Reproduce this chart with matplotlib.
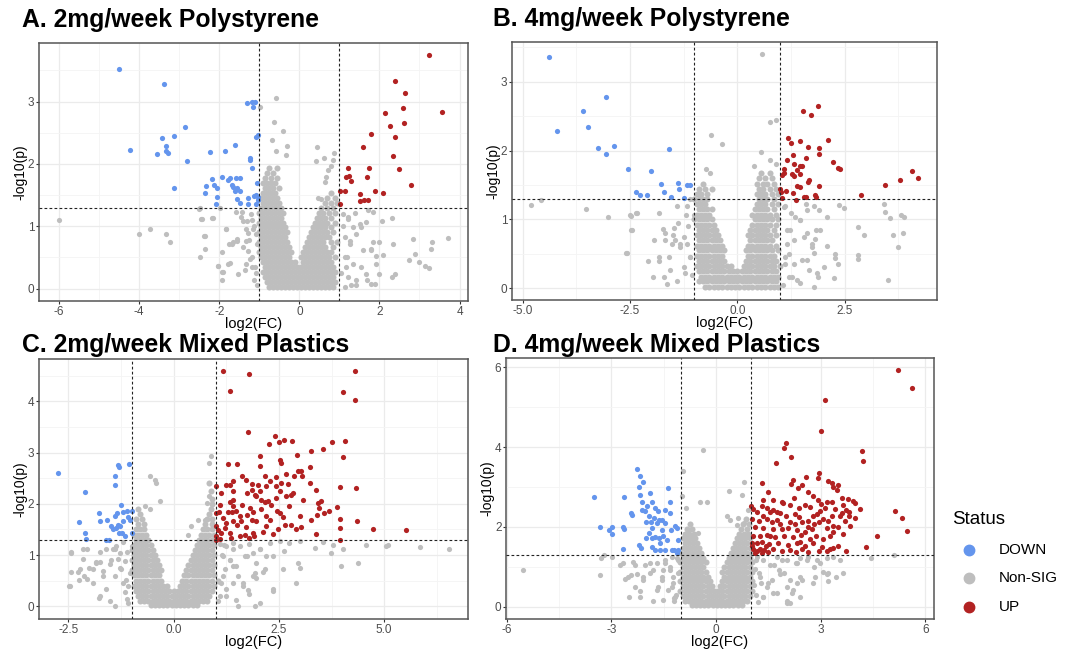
import matplotlib.pyplot as plt
from matplotlib.lines import Line2D

plt.rcParams['axes.unicode_minus'] = False
plt.rcParams['font.family'] = ['Liberation Sans', 'DejaVu Sans']

# colours used by the Status groups
C_DOWN = '#6495ED'
C_NS = '#BEBEBE'
C_UP = '#B22222'

# ---------------- panel A : 2mg/week Polystyrene ----------------
A_down = [(-4.51, 3.53), (-3.39, 3.29), (-4.23, 2.22), (-2.85, 2.60), (-3.43, 2.41), (-3.14, 2.45),
          (-3.33, 2.29), (-3.55, 2.16), (-3.34, 2.21), (-3.28, 2.17), (-2.80, 2.05), (-3.14, 1.62),
          (-2.22, 2.19), (-1.86, 2.20), (-1.61, 2.31), (-1.31, 2.97), (-1.18, 2.99), (-1.11, 3.00),
          (-1.16, 2.92), (-1.07, 2.44), (-1.02, 2.46), (-1.22, 2.09), (-1.22, 2.06), (-1.19, 1.94),
          (-1.05, 1.70), (-2.17, 1.76), (-1.92, 1.79), (-1.78, 1.75), (-1.72, 1.78), (-1.59, 1.78),
          (-1.47, 1.78), (-1.69, 1.66), (-1.66, 1.63), (-1.56, 1.61), (-1.49, 1.56), (-1.61, 1.57),
          (-2.32, 1.65), (-2.13, 1.66), (-2.05, 1.62), (-2.35, 1.54), (-2.05, 1.47), (-2.09, 1.36),
          (-1.55, 1.44), (-1.49, 1.38), (-1.28, 1.45), (-1.27, 1.36), (-1.13, 1.48), (-1.07, 1.50),
          (-1.03, 1.42), (-1.07, 1.36), (-1.02, 1.47)]
A_up = [(3.25, 3.74), (2.40, 3.33), (2.63, 3.14), (2.60, 2.90), (3.57, 2.84), (2.13, 2.81),
        (2.27, 2.61), (2.61, 2.65), (1.80, 2.48), (2.38, 2.43), (1.60, 2.27), (2.35, 2.13),
        (1.21, 1.94), (1.73, 1.93), (2.50, 1.92), (1.17, 1.79), (1.23, 1.80), (1.30, 1.72),
        (1.68, 1.79), (2.80, 1.66), (1.01, 1.57), (1.15, 1.57), (1.90, 1.56), (2.09, 1.53),
        (1.52, 1.52), (1.52, 1.40), (1.61, 1.42), (1.72, 1.42), (1.02, 1.36)]
A_ns = [(-6.0, 1.10), (-4.01, 0.87), (-3.72, 0.96), (-3.32, 0.88), (-3.22, 0.75), (-2.50, 1.27),
        (-2.46, 1.12), (-2.18, 1.14), (-1.99, 1.29), (-2.39, 0.85), (-2.35, 0.63), (-2.47, 0.50),
        (-2.03, 0.36), (-1.92, 0.26), (-1.84, 0.95), (-1.77, 0.40), (-1.75, 0.71), (-1.66, 0.75),
        (-1.56, 0.79), (-1.41, 0.67), (-1.31, 1.09), (-1.26, 0.78), (-1.18, 0.51), (-1.32, 0.40),
        (-1.11, 0.35), (-1.36, 0.29), (-1.53, 0.24), (-0.59, 3.06), (-0.64, 2.67), (-0.41, 2.53),
        (-0.68, 2.38), (-0.59, 2.20), (-0.34, 2.14), (-0.31, 2.28), (-0.98, 2.91), (0.44, 2.27),
        (0.41, 2.05), (0.61, 2.09), (0.87, 2.17), (0.84, 2.07), (0.78, 1.97), (0.72, 1.90),
        (0.66, 1.79), (0.65, 1.71), (0.46, 1.45), (0.53, 1.44), (1.72, 1.26), (1.67, 1.07),
        (2.06, 1.08), (2.32, 1.14), (2.83, 0.80), (3.30, 0.74), (3.29, 0.63), (3.71, 0.81),
        (2.90, 0.56), (2.75, 0.46), (3.00, 0.43), (3.13, 0.37), (3.25, 0.33), (2.34, 0.72),
        (2.00, 0.74), (1.84, 0.74), (1.79, 0.62), (2.10, 0.54), (1.92, 0.39), (2.00, 0.24),
        (2.32, 0.18), (2.39, 0.23), (1.70, 0.13), (1.80, 0.08), (1.42, 0.05), (1.38, 1.21),
        (1.21, 1.15), (1.55, 0.99), (1.42, 0.88), (1.59, 0.62), (1.34, 0.40), (1.17, 0.35),
        (1.26, 0.72), (1.13, 0.51), (-1.2, 1.2), (-1.15, 0.95), (-1.45, 1.15), (1.1, 1.0),
        (-2.48, 1.29), (-2.44, 1.12), (-2.15, 1.14), (-2.36, 0.85), (-1.83, 0.95), (-1.94, 0.59),
        (-2.02, 0.37), (-1.90, 0.26), (-1.73, 0.41), (-1.92, 0.13), (-1.69, 0.72), (-1.55, 0.77),
        (-1.40, 1.09), (-1.33, 0.95), (-1.28, 0.89), (-1.32, 0.77), (-1.28, 0.61), (-1.23, 0.48),
        (-1.19, 0.34), (-1.14, 0.13), (-1.57, 1.23), (-1.42, 1.23), (-1.19, 1.10), (-1.14, 1.00),
        (-1.09, 0.88), (-1.05, 0.72), (-1.08, 0.25), (-1.05, 0.05),
        (1.09, 1.20), (1.22, 1.12), (1.34, 0.99), (1.51, 1.04), (1.84, 1.23), (1.13, 0.83),
        (1.26, 0.77), (1.80, 0.64), (1.92, 0.53), (1.18, 0.51), (1.55, 0.34), (1.22, 0.18),
        (1.42, 0.13), (1.67, 0.24), (1.88, 0.08), (1.13, 0.02), (1.30, 0.05), (1.05, 0.25)]
A_ns_rows = [
    (0.02, [-0.75, -0.65, -0.55, -0.45, -0.35, -0.25, -0.15, -0.05, 0.05, 0.15, 0.25, 0.35, 0.45, 0.55, 0.65, 0.75, 0.85]),
    (0.10, [-0.8, -0.7, -0.6, -0.5, -0.4, -0.3, -0.2, -0.1, 0.0, 0.1, 0.2, 0.3, 0.4, 0.5, 0.6, 0.7, 0.8, 0.9]),
    (0.18, [-0.85, -0.75, -0.65, -0.55, -0.45, -0.35, -0.25, -0.15, -0.05, 0.05, 0.15, 0.25, 0.35, 0.45, 0.55, 0.65, 0.75, 0.85]),
    (0.26, [-0.9, -0.8, -0.7, -0.6, -0.5, -0.4, -0.3, -0.2, -0.1, 0.0, 0.1, 0.2, 0.3, 0.4, 0.5, 0.6, 0.7, 0.8, 0.9]),
    (0.34, [-0.85, -0.75, -0.65, -0.55, -0.45, -0.35, -0.25, -0.15, -0.05, 0.05, 0.15, 0.25, 0.35, 0.45, 0.55, 0.65, 0.75, 0.85]),
    (0.42, [-0.9, -0.8, -0.7, -0.6, -0.5, -0.4, -0.3, -0.2, -0.1, 0.1, 0.2, 0.3, 0.4, 0.5, 0.6, 0.7, 0.8]),
    (0.50, [-0.95, -0.85, -0.75, -0.65, -0.55, -0.45, -0.35, -0.25, 0.05, 0.15, 0.25, 0.35, 0.45, 0.55, 0.65, 0.75, 0.9]),
    (0.58, [-1.0, -0.9, -0.8, -0.7, -0.6, -0.5, -0.4, -0.3, -0.2, 0.1, 0.2, 0.3, 0.4, 0.5, 0.6, 0.7, 0.8]),
    (0.66, [-0.95, -0.85, -0.75, -0.65, -0.55, -0.45, -0.35, -0.25, 0.15, 0.25, 0.35, 0.45, 0.55, 0.65, 0.85]),
    (0.74, [-1.0, -0.9, -0.8, -0.7, -0.6, -0.5, -0.4, -0.3, 0.2, 0.3, 0.4, 0.5, 0.6, 0.8, 0.95]),
    (0.82, [-0.95, -0.85, -0.75, -0.65, -0.55, -0.45, -0.35, 0.25, 0.35, 0.45, 0.55, 0.65, 0.75]),
    (0.90, [-1.0, -0.9, -0.8, -0.7, -0.6, -0.5, -0.4, -0.3, 0.3, 0.4, 0.5, 0.6, 0.7, 0.85]),
    (0.98, [-0.95, -0.85, -0.75, -0.65, -0.55, -0.45, -0.35, 0.35, 0.45, 0.55, 0.65, 0.8]),
    (1.06, [-1.0, -0.9, -0.8, -0.7, -0.6, -0.5, -0.4, 0.4, 0.5, 0.6, 0.7, 0.9]),
    (1.14, [-0.95, -0.85, -0.75, -0.65, -0.55, -0.45, 0.45, 0.55, 0.65, 0.8]),
    (1.22, [-1.0, -0.9, -0.8, -0.7, -0.6, -0.5, -0.4, 0.5, 0.6, 0.75, 0.9]),
    (1.30, [-0.95, -0.85, -0.75, -0.65, -0.55, -0.45, 0.55, 0.7, 0.85]),
    (1.38, [-0.9, -0.8, -0.7, -0.6, -0.5, 0.65, 0.8, 0.95]),
    (1.46, [-0.95, -0.85, -0.75, -0.65, -0.55, 0.7, 0.9]),
    (1.54, [-0.9, -0.8, -0.7, -0.6, 0.8]),
    (1.62, [-0.85, -0.75, -0.65, -0.5]),
    (1.70, [-0.9, -0.8, -0.7, -0.6]),
    (1.78, [-0.85, -0.7, -0.55]),
    (1.86, [-0.8, -0.65]),
    (1.94, [-0.75, -0.55]),
]

# ---------------- panel B : 4mg/week Polystyrene ----------------
B_down = [(-4.38, 3.36), (-4.20, 2.28), (-3.60, 2.57), (-3.49, 2.34), (-3.07, 2.78), (-3.25, 2.04),
          (-3.06, 1.95), (-2.87, 2.07), (-2.55, 1.74), (-2.02, 1.70), (-1.60, 2.03), (-2.35, 1.40),
          (-2.26, 1.35), (-2.10, 1.35), (-1.79, 1.52), (-1.72, 1.40), (-1.55, 1.33), (-1.38, 1.53),
          (-1.35, 1.44), (-1.17, 1.50), (-1.11, 1.50), (-1.24, 1.31)]
B_up = [(1.53, 2.57), (1.72, 2.52), (1.89, 2.65), (1.17, 2.19), (1.24, 2.11), (1.45, 2.14),
        (2.10, 2.16), (1.64, 2.05), (1.91, 2.04), (1.91, 1.95), (1.29, 1.93), (1.15, 1.87),
        (1.33, 1.80), (1.61, 1.90), (1.45, 1.78), (1.50, 1.78), (1.08, 1.73), (1.09, 1.68),
        (1.39, 1.72), (2.22, 1.84), (2.34, 1.75), (2.39, 1.73), (1.27, 1.66), (1.33, 1.63),
        (1.45, 1.66), (1.05, 1.64), (1.66, 1.57), (1.65, 1.54), (1.40, 1.48), (1.45, 1.47),
        (1.91, 1.49), (0.99, 1.45), (1.02, 1.40), (1.14, 1.42), (1.30, 1.38), (1.55, 1.33),
        (1.59, 1.32), (1.36, 1.29), (1.04, 1.31), (1.80, 1.35), (1.83, 1.33), (2.87, 1.35),
        (3.45, 1.50), (3.79, 1.57), (4.07, 1.71), (4.20, 1.60)]
B_ns = [(-4.81, 1.21), (-4.57, 1.29), (-3.52, 1.15), (-3.01, 1.03), (-2.59, 0.52), (-2.47, 0.85),
        (-2.47, 1.05), (-2.35, 1.09), (-2.07, 0.40), (-1.97, 0.17), (-1.93, 0.70), (-1.83, 0.46),
        (-1.82, 1.09), (-1.73, 0.86), (-1.68, 0.80), (-1.64, 0.06), (-1.56, 0.27), (-1.50, 0.77),
        (-1.46, 0.70), (-1.41, 1.19), (-1.38, 0.95), (-1.34, 0.60), (-1.23, 0.22), (-1.20, 1.07),
        (-1.17, 0.64), (-1.11, 0.45), (0.57, 3.41), (0.77, 2.42), (0.89, 2.44), (-0.61, 2.23),
        (-0.36, 2.09), (0.54, 1.98), (0.76, 1.87), (0.89, 1.80), (0.38, 1.78), (-0.72, 1.73),
        (-0.63, 1.67), (2.36, 1.21), (2.48, 1.16), (3.42, 1.23), (3.44, 1.11), (3.56, 1.02),
        (3.82, 1.06), (3.88, 1.04), (3.86, 0.80), (3.62, 0.77), (3.74, 0.60), (3.50, 0.12),
        (2.80, 0.89), (2.96, 0.78), (2.81, 0.48), (2.82, 0.42), (2.27, 0.50), (2.28, 0.44),
        (2.34, 0.36), (2.24, 0.15), (2.09, 0.61), (1.93, 0.85), (1.91, 1.14), (2.09, 1.04),
        (1.80, 0.72), (1.78, 0.51), (2.01, 0.31), (1.87, 0.17), (1.74, 0.65), (1.62, 0.80),
        (1.47, 0.99), (1.35, 1.04), (1.59, 1.23), (1.78, 1.19), (1.51, 0.41), (1.66, 0.27),
        (1.27, 0.17), (1.39, 0.12), (1.12, 0.36), (1.16, 0.65), (1.23, 0.85), (-1.1, 1.3),
        (-1.15, 0.9), (1.1, 1.2), (1.2, 0.5),
        (-2.49, 1.06), (-2.34, 1.09), (-2.46, 0.85), (-2.57, 0.52), (-1.68, 0.70), (-1.48, 0.87),
        (-1.25, 0.75), (-1.17, 1.19), (-1.02, 1.06), (-1.10, 0.46), (-1.25, 0.31), (-1.41, 0.10),
        (-1.72, 0.17), (-1.83, 0.39), (-1.60, 0.46), (-1.33, 0.65), (-1.52, 0.65), (-1.05, 0.2),
        (1.08, 1.18), (1.24, 1.09), (1.47, 0.99), (1.63, 1.14), (1.83, 0.85), (1.16, 0.85),
        (1.31, 0.70), (1.55, 0.75), (1.74, 0.60), (1.12, 0.46), (1.31, 0.36), (1.63, 0.41),
        (1.86, 0.22), (1.20, 0.17), (1.47, 0.07), (1.78, 0.02), (1.06, 0.05)]
B_ns_rows = [
    (0.02, [-0.75, -0.65, -0.55, -0.45, -0.35, -0.25, -0.15, -0.05, 0.05, 0.15, 0.25, 0.35, 0.45, 0.55, 0.65, 0.75, 0.85, 0.95]),
    (0.10, [-0.9, -0.8, -0.7, -0.6, -0.5, -0.4, -0.3, -0.2, -0.1, 0.0, 0.1, 0.2, 0.3, 0.4, 0.5, 0.6, 0.7, 0.8, 0.9]),
    (0.17, [-0.85, -0.75, -0.65, -0.55, -0.45, -0.35, -0.25, -0.15, -0.05, 0.05, 0.15, 0.25, 0.35, 0.45, 0.55, 0.65, 0.75, 0.85, 0.95]),
    (0.25, [-0.9, -0.8, -0.7, -0.6, -0.5, -0.4, -0.3, -0.2, -0.1, 0.0, 0.1, 0.2, 0.3, 0.4, 0.5, 0.6, 0.7, 0.8, 0.9]),
    (0.32, [-0.95, -0.85, -0.75, -0.65, -0.55, -0.45, -0.35, -0.25, -0.15, 0.15, 0.25, 0.35, 0.45, 0.55, 0.65, 0.75, 0.85, 1.0]),
    (0.40, [-0.9, -0.8, -0.7, -0.6, -0.5, -0.4, -0.3, 0.2, 0.3, 0.4, 0.5, 0.6, 0.7, 0.8, 0.9]),
    (0.47, [-0.95, -0.85, -0.75, -0.65, -0.55, -0.45, -0.35, 0.25, 0.35, 0.45, 0.55, 0.65, 0.75, 0.85]),
    (0.55, [-0.9, -0.8, -0.7, -0.6, -0.5, -0.4, -0.3, 0.2, 0.3, 0.4, 0.5, 0.6, 0.7, 0.8, 0.95]),
    (0.62, [-0.95, -0.85, -0.75, -0.65, -0.55, -0.45, -0.35, 0.25, 0.35, 0.45, 0.55, 0.65, 0.75, 0.9]),
    (0.70, [-0.9, -0.8, -0.7, -0.6, -0.5, -0.4, 0.3, 0.4, 0.5, 0.6, 0.7, 0.8]),
    (0.77, [-0.95, -0.85, -0.75, -0.65, -0.55, -0.45, 0.25, 0.35, 0.45, 0.55, 0.65, 0.75, 0.9]),
    (0.85, [-0.9, -0.8, -0.7, -0.6, -0.5, 0.3, 0.4, 0.5, 0.6, 0.7, 0.85]),
    (0.92, [-0.95, -0.85, -0.75, -0.65, -0.55, 0.35, 0.45, 0.55, 0.65, 0.75, 0.9]),
    (1.00, [-1.0, -0.9, -0.8, -0.7, -0.6, 0.4, 0.5, 0.6, 0.7, 0.8, 0.95]),
    (1.07, [-0.95, -0.85, -0.75, -0.65, 0.35, 0.45, 0.55, 0.65, 0.75, 0.9]),
    (1.15, [-0.9, -0.8, -0.7, -0.6, 0.4, 0.5, 0.6, 0.7, 0.85]),
    (1.22, [-0.95, -0.85, -0.75, 0.45, 0.55, 0.65, 0.8, 0.95]),
    (1.30, [-1.0, -0.9, -0.8, -0.7, 0.5, 0.6, 0.7, 0.85]),
    (1.37, [-0.95, -0.85, -0.7, 0.45, 0.55, 0.65, 0.8, 0.95]),
    (1.45, [-0.9, -0.75, -0.6, 0.5, 0.6, 0.75, 0.9]),
    (1.52, [-0.8, 0.45, 0.6, 0.7, 0.85]),
    (1.60, [0.5, 0.65, 0.8]),
    (1.67, [0.55, 0.75]),
]

# ---------------- panel C : 2mg/week Mixed Plastics ----------------
C_down = [(-2.75, 2.61), (-2.10, 2.24), (-2.25, 1.65), (-2.10, 1.43), (-2.09, 1.32), (-1.77, 1.82),
          (-1.74, 1.66), (-1.58, 1.69), (-1.60, 1.30), (-1.54, 1.30), (-1.40, 1.77), (-1.35, 1.82),
          (-1.26, 1.98), (-1.40, 2.54), (-1.40, 2.36), (-1.32, 2.75), (-1.31, 2.72), (-1.06, 2.78),
          (-1.20, 1.85), (-1.11, 1.87), (-1.00, 1.87), (-1.08, 1.74), (-1.03, 1.69), (-0.98, 1.43),
          (-1.50, 1.56), (-1.44, 1.50), (-1.36, 1.53), (-1.32, 1.59), (-1.27, 1.56), (-1.23, 1.44),
          (-1.16, 1.38), (-1.30, 1.43), (-1.20, 1.66)]
C_up = [(1.16, 4.59), (1.78, 4.54), (1.33, 4.21), (4.30, 4.59), (4.03, 4.18), (4.31, 4.02),
        (1.76, 3.40), (2.40, 3.32), (2.61, 3.24), (2.82, 3.23), (2.50, 3.20), (2.26, 3.17),
        (3.77, 3.21), (4.08, 3.22), (3.27, 3.04), (3.54, 3.08), (2.06, 2.94), (2.92, 2.95),
        (4.03, 2.91), (2.52, 2.85), (2.54, 2.80), (1.29, 2.78), (1.51, 2.78), (2.04, 2.73),
        (3.25, 2.72), (2.95, 2.65), (3.03, 2.65), (1.62, 2.54), (2.16, 2.55), (2.28, 2.44),
        (2.66, 2.59), (2.42, 2.52), (2.85, 2.54), (3.05, 2.54), (1.01, 2.34), (1.25, 2.37),
        (1.34, 2.37), (1.72, 2.47), (1.86, 2.39), (2.00, 2.36), (2.20, 2.34), (2.42, 2.34),
        (2.56, 2.41), (2.72, 2.39), (3.96, 2.32), (4.32, 2.31), (2.83, 2.21), (2.66, 2.15),
        (2.78, 2.17), (1.86, 2.28), (1.74, 2.21), (1.41, 2.26), (1.92, 2.18), (2.08, 2.08),
        (2.16, 2.03), (2.24, 2.05), (2.32, 1.98), (1.42, 2.07), (1.33, 2.03), (1.63, 1.98),
        (1.11, 1.98), (1.49, 1.87), (1.01, 1.82), (1.08, 1.84), (1.29, 1.85), (1.39, 1.85),
        (1.82, 1.92), (1.88, 1.85), (1.74, 1.79), (2.45, 1.86), (2.53, 1.82), (3.43, 2.02),
        (3.51, 2.05), (3.45, 1.91), (3.69, 1.86), (3.88, 1.94), (3.96, 1.70), (3.40, 1.79),
        (3.27, 1.69), (3.58, 1.83), (4.36, 1.66), (1.16, 1.73), (1.25, 1.63), (1.41, 1.66),
        (1.50, 1.58), (1.61, 1.67), (1.87, 1.69), (1.96, 1.66), (2.20, 1.76), (2.28, 1.69),
        (2.59, 1.74), (2.64, 1.59), (2.79, 1.58), (3.03, 1.55), (2.90, 1.51), (1.01, 1.56),
        (1.05, 1.48), (1.12, 1.43), (1.21, 1.53), (1.34, 1.43), (1.01, 1.38), (1.09, 1.31),
        (1.37, 1.33), (1.57, 1.37), (1.69, 1.40), (1.80, 1.33), (1.90, 1.37), (2.12, 1.45),
        (2.36, 1.41), (2.48, 1.50), (3.37, 1.41), (3.94, 1.53), (3.96, 1.30), (4.73, 1.51),
        (5.52, 1.48), (1.00, 1.30), (1.96, 2.15), (2.04, 2.25), (2.44, 2.12), (2.52, 2.26),
        (1.41, 2.44), (1.13, 2.21), (1.57, 1.76), (2.08, 1.89), (2.75, 1.95), (2.99, 1.76),
        (3.07, 2.08), (3.37, 2.28), (3.23, 2.41), (1.41, 1.95), (1.72, 1.54), (2.20, 1.56),
        (1.88, 1.43)]
C_ns = [(-2.48, 0.39), (-2.43, 1.04), (-2.43, 0.67), (-2.25, 0.52), (-2.23, 0.72), (-2.15, 1.11),
        (-2.06, 1.11), (-2.14, 0.59), (-2.00, 0.75), (-1.91, 0.46), (-1.84, 0.87), (-1.76, 0.87),
        (-1.77, 0.16), (-1.68, 0.68), (-1.61, 0.33), (-1.60, 1.11), (-1.48, 0.91), (-1.40, 1.11),
        (-1.40, 0.59), (-1.28, 1.04), (-1.28, 0.75), (-1.16, 0.88), (-1.14, 0.52), (-1.08, 0.39),
        (-1.08, 0.07), (-1.03, 0.65), (-1.00, 1.17), (0.89, 2.94), (0.83, 2.80), (0.85, 2.15),
        (0.79, 2.02), (0.74, 1.69), (-0.57, 2.55), (-0.44, 2.47), (-0.41, 2.41), (-0.33, 2.05),
        (-0.67, 1.96), (-0.57, 1.89), (0.58, 1.69), (0.42, 1.56), (0.34, 1.40), (4.57, 1.20),
        (5.05, 1.17), (5.09, 1.19), (5.85, 1.15), (6.53, 1.11), (4.38, 0.85), (3.98, 0.79),
        (3.74, 1.04), (3.35, 1.14), (3.54, 1.26), (2.90, 0.46), (2.99, 0.75), (2.95, 0.85),
        (2.59, 0.72), (2.62, 1.07), (2.36, 0.29), (2.37, 0.98), (2.16, 0.72), (1.94, 0.65),
        (1.96, 0.55), (1.92, 0.01), (1.53, 0.01), (1.76, 0.31), (1.65, 0.46), (1.53, 0.59),
        (1.41, 0.78), (2.04, 1.11), (1.88, 1.04), (1.69, 0.98), (1.57, 1.17), (1.41, 1.11),
        (1.33, 0.91), (1.21, 0.72), (1.13, 0.46), (1.25, 0.33), (1.09, 0.20), (2.75, 1.24),
        (2.99, 1.27), (2.28, 1.24), (2.52, 1.27), (3.78, 1.20), (4.02, 1.12), (1.15, 1.0),
        (1.2, 1.2), (-1.2, 1.25),
        (-2.43, 1.05), (-2.47, 0.40), (-2.27, 0.66), (-2.15, 0.92), (-2.07, 0.53), (-1.92, 0.72),
        (-1.84, 0.85), (-1.76, 1.05), (-1.68, 0.59), (-1.52, 0.82), (-1.44, 1.11), (-1.36, 1.18),
        (-1.32, 0.92), (-1.24, 0.72), (-1.20, 0.46), (-1.12, 1.05), (-1.16, 0.27), (-1.76, 0.20),
        (-1.52, 0.10), (-1.40, 0.00), (-1.12, 0.14),
        (1.09, 1.21), (1.25, 1.18), (1.41, 1.24), (1.80, 1.21), (2.04, 1.11), (1.17, 0.98),
        (1.33, 0.91), (1.49, 0.79), (1.73, 0.98), (1.96, 0.85), (2.20, 0.98), (1.17, 0.59),
        (1.41, 0.46), (1.65, 0.40), (1.88, 0.59), (2.12, 0.66), (1.25, 0.20), (1.49, 0.13),
        (1.80, 0.23), (2.04, 0.07), (2.36, 0.33), (1.05, 0.1)]
C_ns_rows = [
    (0.02, [-0.55, -0.45, -0.35, -0.25, -0.15, -0.05, 0.05, 0.15, 0.25, 0.35, 0.45, 0.55]),
    (0.10, [-0.8, -0.7, -0.6, -0.5, -0.4, -0.3, -0.2, -0.1, 0.0, 0.1, 0.2, 0.3, 0.4, 0.5, 0.6, 0.7, 0.8]),
    (0.20, [-0.85, -0.75, -0.65, -0.55, -0.45, -0.35, -0.25, -0.15, -0.05, 0.05, 0.15, 0.25, 0.35, 0.45, 0.55, 0.65, 0.75, 0.85]),
    (0.30, [-0.9, -0.8, -0.7, -0.6, -0.5, -0.4, -0.3, -0.2, -0.1, 0.0, 0.1, 0.2, 0.3, 0.4, 0.5, 0.6, 0.7, 0.8, 0.9]),
    (0.40, [-0.95, -0.85, -0.75, -0.65, -0.55, -0.45, -0.35, -0.25, -0.15, 0.15, 0.25, 0.35, 0.45, 0.55, 0.65, 0.75, 0.85, 0.95]),
    (0.50, [-0.9, -0.8, -0.7, -0.6, -0.5, -0.4, -0.3, 0.2, 0.3, 0.4, 0.5, 0.6, 0.7, 0.8, 0.9, 1.05]),
    (0.60, [-0.95, -0.85, -0.75, -0.65, -0.55, -0.45, -0.35, 0.25, 0.35, 0.45, 0.55, 0.65, 0.75, 0.85, 0.95]),
    (0.70, [-1.0, -0.9, -0.8, -0.7, -0.6, -0.5, -0.4, -0.3, 0.3, 0.4, 0.5, 0.6, 0.7, 0.8, 0.9]),
    (0.80, [-0.95, -0.85, -0.75, -0.65, -0.55, -0.45, -0.35, 0.35, 0.45, 0.55, 0.65, 0.75, 0.85, 0.95]),
    (0.90, [-1.0, -0.9, -0.8, -0.7, -0.6, -0.5, -0.4, 0.4, 0.5, 0.6, 0.7, 0.8, 0.9]),
    (1.00, [-0.95, -0.85, -0.75, -0.65, -0.55, -0.45, 0.45, 0.55, 0.65, 0.75, 0.85, 0.95]),
    (1.10, [-1.0, -0.9, -0.8, -0.7, -0.6, -0.5, 0.5, 0.6, 0.7, 0.8, 0.9]),
    (1.20, [-0.95, -0.85, -0.75, -0.65, -0.55, 0.55, 0.65, 0.75, 0.85, 0.95]),
    (1.30, [-0.9, -0.8, -0.7, -0.6, 0.6, 0.7, 0.8, 0.9]),
    (1.40, [-0.95, -0.85, -0.75, -0.65, 0.65, 0.75, 0.85, 0.95]),
    (1.50, [-0.9, -0.8, -0.7, 0.7, 0.8, 0.9]),
    (1.60, [-0.85, -0.7, 0.75, 0.9]),
    (1.70, [-0.9, -0.75, 0.8, 0.92]),
    (1.80, [-0.8, 0.85]),
    (1.90, [-0.85, 0.88]),
    (2.00, [0.9]),
    (2.10, [0.92]),
    (2.25, [0.88]),
    (2.40, [0.85]),
]

# ---------------- panel D : 4mg/week Mixed Plastics ----------------
D_down = [(-3.49, 2.74), (-3.32, 2.00), (-3.08, 1.92), (-2.97, 1.99), (-2.98, 1.81), (-2.65, 2.75),
          (-2.66, 1.99), (-2.64, 1.95), (-2.68, 1.45), (-2.44, 2.34), (-2.42, 2.30), (-2.27, 3.46),
          (-2.18, 3.28), (-2.09, 3.13), (-2.22, 3.01), (-2.18, 2.80), (-2.11, 2.63), (-2.13, 2.41),
          (-2.05, 2.40), (-1.90, 2.86), (-1.83, 2.63), (-1.74, 2.47), (-1.66, 2.40), (-2.02, 2.13),
          (-1.92, 2.26), (-1.87, 2.13), (-1.78, 2.21), (-1.70, 2.09), (-1.63, 2.17), (-2.02, 1.71),
          (-1.92, 1.84), (-1.83, 1.71), (-1.74, 1.75), (-1.63, 1.71), (-2.20, 1.55), (-2.15, 1.46),
          (-1.85, 1.50), (-1.74, 1.42), (-1.61, 1.60), (-1.61, 1.42), (-1.54, 1.93), (-1.52, 1.78),
          (-1.45, 1.43), (-1.47, 2.10), (-1.46, 2.43), (-1.38, 2.98), (-1.33, 2.63), (-1.32, 2.34),
          (-1.30, 1.93), (-1.26, 1.42), (-1.18, 2.01), (-1.13, 1.97), (-1.10, 1.67), (-1.20, 1.42),
          (-1.08, 1.42), (-1.40, 1.67), (-1.83, 1.96), (-1.97, 2.51), (-1.54, 2.17), (-1.13, 1.34)]
D_up = [(5.21, 5.93), (5.62, 5.47), (3.13, 5.18), (3.01, 4.39), (2.01, 4.09), (1.94, 3.97),
        (2.15, 3.74), (1.72, 3.59), (4.18, 3.91), (4.21, 3.66), (2.94, 3.34), (2.92, 3.23),
        (2.59, 3.24), (2.22, 3.18), (1.33, 3.09), (2.15, 3.07), (3.22, 3.16), (3.32, 3.09),
        (3.51, 3.05), (3.34, 3.01), (3.46, 2.92), (2.36, 2.97), (2.46, 3.04), (2.65, 2.87),
        (1.50, 2.87), (1.88, 2.63), (1.93, 2.59), (2.24, 2.72), (2.92, 2.68), (3.18, 2.63),
        (3.32, 2.61), (3.60, 2.73), (3.79, 2.69), (3.94, 2.65), (3.98, 2.59), (3.63, 2.55),
        (4.13, 2.44), (0.99, 2.51), (1.07, 2.44), (1.31, 2.51), (1.45, 2.47), (1.64, 2.41),
        (1.76, 2.36), (2.11, 2.55), (2.39, 2.47), (2.56, 2.55), (2.68, 2.50), (3.01, 2.57),
        (3.11, 2.47), (3.42, 2.44), (3.73, 2.41), (3.82, 2.36), (1.16, 2.36), (1.35, 2.27),
        (1.55, 2.36), (1.74, 2.18), (2.01, 2.27), (2.27, 2.33), (2.39, 2.25), (2.77, 2.26),
        (2.90, 2.32), (3.07, 2.19), (3.31, 2.26), (3.60, 2.34), (3.82, 2.26), (3.98, 2.23),
        (1.02, 2.19), (1.24, 2.14), (1.45, 2.19), (1.59, 2.11), (1.83, 2.07), (2.11, 2.11),
        (2.45, 2.11), (2.64, 2.15), (2.81, 2.08), (2.96, 2.11), (3.36, 2.03), (3.70, 2.15),
        (1.12, 1.99), (1.35, 1.97), (1.62, 1.94), (1.88, 1.95), (2.07, 1.97), (2.31, 1.91),
        (2.55, 1.87), (2.74, 1.94), (3.17, 1.97), (3.36, 1.87), (3.51, 1.99), (4.61, 1.78),
        (5.13, 2.40), (5.34, 2.23), (5.46, 1.90), (4.30, 1.50), (1.07, 1.78), (1.26, 1.76),
        (1.47, 1.80), (1.69, 1.74), (1.95, 1.78), (2.20, 1.74), (2.43, 1.80), (2.68, 1.70),
        (2.87, 1.76), (3.06, 1.70), (3.27, 1.76), (3.65, 1.82), (1.02, 1.60), (1.16, 1.59),
        (1.33, 1.62), (1.52, 1.56), (1.78, 1.59), (2.07, 1.54), (2.33, 1.59), (2.55, 1.52),
        (2.79, 1.59), (3.03, 1.50), (3.36, 1.47), (3.51, 1.52), (1.05, 1.44), (1.16, 1.40),
        (1.26, 1.45), (1.37, 1.42), (1.50, 1.38), (1.64, 1.45), (1.88, 1.40), (2.12, 1.42),
        (2.29, 1.38), (2.45, 1.45), (2.64, 1.38), (2.96, 1.39), (3.17, 1.39), (3.27, 1.45),
        (3.73, 1.39), (1.12, 1.35), (1.31, 1.34), (1.43, 1.52), (1.02, 1.52), (1.83, 2.34),
        (1.64, 2.68), (2.79, 2.76), (3.55, 2.26), (1.35, 2.68), (3.85, 2.03), (2.26, 2.06),
        (3.22, 2.15), (2.98, 2.39), (1.55, 1.78), (2.64, 1.99), (2.41, 1.61)]
D_ns = [(-5.54, 0.92), (-3.30, 1.21), (-3.20, 1.30), (-3.32, 0.80), (-2.98, 1.25), (-2.74, 1.04),
        (-2.60, 0.68), (-2.50, 0.25), (-2.44, 0.80), (-2.32, 1.04), (-2.17, 0.40), (-2.08, 0.75),
        (-2.03, 1.04), (-1.89, 0.84), (-1.70, 1.09), (-1.65, 0.50), (-1.56, 0.67), (-1.51, 0.92),
        (-1.46, 1.17), (-1.37, 0.42), (-1.32, 1.00), (-1.22, 0.75), (-1.25, 0.50), (-1.20, 0.21),
        (-1.13, 1.21), (-0.38, 3.93), (-0.94, 3.41), (-0.98, 2.76), (-0.86, 2.47), (-0.46, 2.63),
        (-0.27, 2.61), (0.38, 2.91), (0.81, 3.13), (0.74, 2.80), (0.31, 2.26), (0.40, 2.17),
        (0.59, 2.05), (0.64, 2.21), (0.80, 2.09), (0.93, 2.42), (-0.79, 1.92), (-0.65, 1.71),
        (-0.51, 1.84), (-0.87, 1.67), (4.43, 1.23), (5.11, 1.29), (3.65, 0.84), (3.44, 0.75),
        (3.22, 0.63), (3.22, 0.84), (3.08, 0.86), (2.84, 0.75), (2.80, 1.00), (3.17, 1.21),
        (2.46, 0.67), (2.32, 0.58), (2.18, 0.33), (2.13, 0.08), (2.04, 0.08), (2.04, 0.50),
        (1.95, 0.84), (1.81, 0.92), (1.66, 1.04), (1.90, 1.17), (2.28, 1.09), (2.42, 1.21),
        (1.59, 0.67), (1.45, 0.50), (1.64, 0.33), (1.36, 0.25), (1.24, 0.84), (1.15, 1.17),
        (1.30, 0.58), (2.89, 1.17), (3.56, 1.17), (2.65, 1.25), (-1.15, 0.30), (-1.20, 0.15),
        (1.15, 0.30), (1.20, 0.12), (1.10, 0.55),
        (-2.66, 1.09), (-2.37, 1.12), (-2.51, 0.75), (-2.27, 0.83), (-2.32, 0.50), (-2.08, 0.67),
        (-1.89, 1.09), (-1.80, 0.92), (-1.70, 0.42), (-1.56, 0.75), (-1.46, 1.09), (-1.32, 0.92),
        (-1.22, 0.58), (-1.18, 0.25), (-1.51, 0.17), (-1.80, 0.13), (-2.18, 0.25), (-1.08, 1.17),
        (-1.27, 1.25), (-1.1, 0.85),
        (1.17, 1.25), (1.36, 1.17), (1.55, 1.05), (1.74, 1.25), (2.03, 1.17), (2.31, 1.09),
        (2.60, 1.17), (2.98, 1.09), (3.36, 1.25), (1.26, 0.75), (1.50, 0.58), (1.84, 0.83),
        (2.12, 0.67), (2.41, 0.75), (2.79, 0.58), (3.17, 0.83), (1.36, 0.25), (1.74, 0.33),
        (2.03, 0.13), (2.41, 0.25), (2.22, 0.42), (1.12, 0.95)]
D_ns_rows = [
    (0.03, [-0.7, -0.58, -0.46, -0.34, -0.22, -0.1, 0.02, 0.14, 0.26, 0.38, 0.5, 0.62, 0.74]),
    (0.15, [-0.9, -0.78, -0.66, -0.54, -0.42, -0.3, -0.18, -0.06, 0.06, 0.18, 0.3, 0.42, 0.54, 0.66, 0.78, 0.9]),
    (0.27, [-0.96, -0.84, -0.72, -0.6, -0.48, -0.36, -0.24, -0.12, 0.0, 0.12, 0.24, 0.36, 0.48, 0.6, 0.72, 0.84, 0.96]),
    (0.39, [-1.02, -0.9, -0.78, -0.66, -0.54, -0.42, -0.3, -0.18, -0.06, 0.06, 0.18, 0.3, 0.42, 0.54, 0.66, 0.78, 0.9, 1.02]),
    (0.51, [-0.96, -0.84, -0.72, -0.6, -0.48, -0.36, -0.24, -0.12, 0.12, 0.24, 0.36, 0.48, 0.6, 0.72, 0.84, 0.96]),
    (0.63, [-1.02, -0.9, -0.78, -0.66, -0.54, -0.42, -0.3, -0.18, 0.18, 0.3, 0.42, 0.54, 0.66, 0.78, 0.9, 1.02]),
    (0.75, [-0.96, -0.84, -0.72, -0.6, -0.48, -0.36, -0.24, 0.24, 0.36, 0.48, 0.6, 0.72, 0.84, 0.96]),
    (0.87, [-1.02, -0.9, -0.78, -0.66, -0.54, -0.42, -0.3, 0.18, 0.3, 0.42, 0.54, 0.66, 0.78, 0.9, 1.02]),
    (0.99, [-0.96, -0.84, -0.72, -0.6, -0.48, -0.36, 0.24, 0.36, 0.48, 0.6, 0.72, 0.84, 0.96]),
    (1.11, [-1.02, -0.9, -0.78, -0.66, -0.54, -0.42, -0.3, 0.3, 0.42, 0.54, 0.66, 0.78, 0.9, 1.02]),
    (1.23, [-0.96, -0.84, -0.72, -0.6, -0.48, -0.36, 0.36, 0.48, 0.6, 0.72, 0.84, 0.96]),
    (1.35, [-1.02, -0.9, -0.78, -0.66, -0.54, -0.42, 0.42, 0.54, 0.66, 0.78, 0.9, 1.02]),
    (1.47, [-0.96, -0.84, -0.72, -0.6, -0.48, 0.48, 0.6, 0.72, 0.84, 0.96]),
    (1.59, [-0.9, -0.78, -0.66, -0.54, 0.54, 0.66, 0.78, 0.9]),
    (1.71, [-0.96, -0.84, -0.72, -0.6, 0.6, 0.72, 0.84, 0.96]),
    (1.83, [-0.9, -0.78, -0.62, 0.66, 0.8, 0.92]),
    (1.95, [-0.84, -0.68, 0.72, 0.88]),
    (2.07, [-0.75, 0.78, 0.95]),
    (2.20, [0.85]),
]


def unpack(pairs, rows=()):
    xs = [p[0] for p in pairs]
    ys = [p[1] for p in pairs]
    for y, row in rows:
        xs += row
        ys += [y] * len(row)
    return xs, ys


def volcano(ax, down, up, ns, ns_rows, xlim, ylim, xticks, xlabels, yticks, xminor, yminor):
    ax.set_xlim(xlim)
    ax.set_ylim(ylim)
    ax.set_xticks(xticks)
    ax.set_xticklabels(xlabels)
    ax.set_yticks(yticks)
    ax.set_xticks(xminor, minor=True)
    ax.set_yticks(yminor, minor=True)
    ax.grid(which='major', color='#EBEBEB', lw=0.9, zorder=0)
    ax.grid(which='minor', color='#F4F4F4', lw=0.6, zorder=0)
    ax.set_axisbelow(True)
    ax.tick_params(which='minor', length=0)
    ax.tick_params(which='major', length=2.5, width=0.8, color='#333333',
                   labelsize=8.5, labelcolor='#4D4D4D', pad=0.8)

    # dense centre of the non-significant cloud, then the sparser ones
    x, y = unpack([], ns_rows)
    ax.scatter(x, y, s=19, color=C_NS, linewidths=0, zorder=2)
    x, y = unpack(ns)
    ax.scatter(x, y, s=14, color=C_NS, linewidths=0, zorder=2)
    x, y = unpack(down)
    ax.scatter(x, y, s=14, color=C_DOWN, linewidths=0, zorder=3)
    x, y = unpack(up)
    ax.scatter(x, y, s=14, color=C_UP, linewidths=0, zorder=3)

    # significance cut-offs
    ax.axhline(1.3, color='#222222', ls=(0, (2.5, 2)), lw=0.8, zorder=4)
    ax.axvline(-1, color='#222222', ls=(0, (2.5, 2)), lw=0.8, zorder=4)
    ax.axvline(1, color='#222222', ls=(0, (2.5, 2)), lw=0.8, zorder=4)

    for s in ax.spines.values():
        s.set_color('#555555')
        s.set_linewidth(1.1)
    ax.set_xlabel('log2(FC)', fontsize=10.5, labelpad=-0.5)
    ax.set_ylabel('-log10(p)', fontsize=10, labelpad=0.5)


fig = plt.figure(figsize=(10.76, 6.59), dpi=100)

axA = fig.add_axes([0.0362, 0.5432, 0.3987, 0.3915])
volcano(axA, A_down, A_up, A_ns, A_ns_rows, (-6.5, 4.21), (-0.2, 3.94),
        [-6, -4, -2, 0, 2, 4], ['-6', '-4', '-2', '0', '2', '4'], [0, 1, 2, 3],
        [-5, -3, -1, 1, 3], [0.5, 1.5, 2.5, 3.5])

axB = fig.add_axes([0.4758, 0.5448, 0.395, 0.3915])
volcano(axB, B_down, B_up, B_ns, B_ns_rows, (-5.25, 4.65), (-0.17, 3.58),
        [-5, -2.5, 0, 2.5], ['-5.0', '-2.5', '0.0', '2.5'], [0, 1, 2, 3],
        [-3.75, -1.25, 1.25, 3.75], [0.5, 1.5, 2.5, 3.5])

axC = fig.add_axes([0.0362, 0.0607, 0.3987, 0.3945])
volcano(axC, C_down, C_up, C_ns, C_ns_rows, (-3.2, 6.99), (-0.25, 4.83),
        [-2.5, 0, 2.5, 5], ['-2.5', '0.0', '2.5', '5.0'], [0, 1, 2, 3, 4],
        [-1.25, 1.25, 3.75, 6.25], [0.5, 1.5, 2.5, 3.5, 4.5])

axD = fig.add_axes([0.4703, 0.0607, 0.3978, 0.396])
volcano(axD, D_down, D_up, D_ns, D_ns_rows, (-6.02, 6.25), (-0.31, 6.23),
        [-6, -3, 0, 3, 6], ['-6', '-3', '0', '3', '6'], [0, 2, 4, 6],
        [-4.5, -1.5, 1.5, 4.5], [1, 3, 5])

titles = ['A. 2mg/week Polystyrene', 'B. 4mg/week Polystyrene',
          'C. 2mg/week Mixed Plastics', 'D. 4mg/week Mixed Plastics']
title_pos = [(0.0204, 0.959), (0.4582, 0.9605), (0.0204, 0.4659), (0.4582, 0.466)]
for t, (tx, ty) in zip(titles, title_pos):
    fig.text(tx, ty, t, fontsize=17.8, fontweight='bold', ha='left', va='baseline')

# legend drawn by hand on the right
status_labels = ['DOWN', 'Non-SIG', 'UP']
status_colors = [C_DOWN, C_NS, C_UP]
status_y = [1 - 550 / 659, 1 - 578 / 659, 1 - 607 / 659]
fig.text(952 / 1076, 1 - 524 / 659, 'Status', fontsize=13.5, ha='left', va='baseline')
for lab, col, ly in zip(status_labels, status_colors, status_y):
    fig.add_artist(Line2D([969 / 1076], [ly], transform=fig.transFigure, marker='o',
                          markersize=7.5, color=col, linestyle='none'))
    fig.text(999 / 1076, ly, lab, fontsize=11, ha='left', va='center')

fig.savefig('out.png', dpi=100)
